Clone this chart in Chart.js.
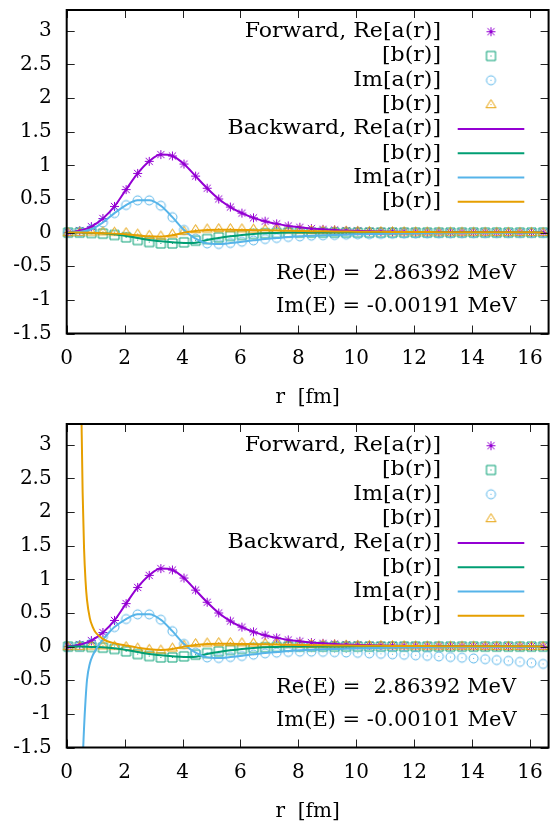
<!DOCTYPE html>
<html lang="en">
<head>
<meta charset="UTF-8">
<title>Forward / backward wave functions</title>
<script src="https://cdn.jsdelivr.net/npm/chart.js@4.4.0/dist/chart.umd.min.js"></script>
<style>
  * { margin: 0; padding: 0; box-sizing: border-box; }
  html, body { width: 552px; height: 821px; overflow: hidden; background: #fff; }
  body { position: relative; }
  .panel { position: absolute; left: 0; }
  #top { top: 0; }
  #bottom { top: 414px; }
</style>
</head>
<body>
<div class="panel" id="top"><canvas id="topChart" width="556" height="407"></canvas></div>
<div class="panel" id="bottom"><canvas id="bottomChart" width="556" height="407"></canvas></div>
<script>
// radial mesh of the forward integration (markers) [fm]
const r = [
  0.05, 0.45, 0.85, 1.25, 1.65, 2.05, 2.45, 2.85, 3.25, 3.65,
  4.05, 4.45, 4.85, 5.25, 5.65, 6.05, 6.45, 6.85, 7.25, 7.65,
  8.05, 8.45, 8.85, 9.25, 9.65, 10.05, 10.45, 10.85, 11.25, 11.65,
  12.05, 12.45, 12.85, 13.25, 13.65, 14.05, 14.45, 14.85, 15.25, 15.65,
  16.05, 16.45
];
// extra points near the origin where the backward solution blows up
const rInner = [0.45, 0.5, 0.55, 0.6, 0.65, 0.7, 0.8, 0.9, 1.0, 1.2, 1.4];

const reA = [
  0.00, 0.03, 0.09, 0.21, 0.39, 0.64, 0.88, 1.06, 1.16, 1.14,
  1.02, 0.84, 0.66, 0.50, 0.38, 0.29, 0.22, 0.17, 0.13, 0.10,
  0.08, 0.06, 0.05, 0.04, 0.03, 0.025, 0.02, 0.016, 0.013, 0.011,
  0.009, 0.007, 0.006, 0.005, 0.004, 0.003, 0.003, 0.002, 0.002, 0.002,
  0.001, 0.001
];
const reB = [
  0.000, 0.000, -0.005, -0.015, -0.035, -0.070, -0.110, -0.140, -0.160, -0.160,
  -0.145, -0.120, -0.095, -0.070, -0.050, -0.035, -0.020, -0.010, -0.005, 0.000,
  0, 0, 0, 0, 0, 0, 0, 0, 0, 0,
  0, 0, 0, 0, 0, 0, 0, 0, 0, 0,
  0, 0
];
const imA = [
  0.00, 0.01, 0.05, 0.15, 0.29, 0.41, 0.48, 0.48, 0.40, 0.23,
  0.04, -0.09, -0.16, -0.17, -0.155, -0.135, -0.115, -0.095, -0.080, -0.065,
  -0.055, -0.045, -0.040, -0.035, -0.030, -0.025, -0.022, -0.019, -0.016, -0.014,
  -0.012, -0.010, -0.009, -0.008, -0.007, -0.006, -0.005, -0.004, -0.004, -0.003,
  -0.003, -0.002
];
// forward Im[a(r)] for the second energy: drifts away at large r
const imA2 = [
  0.00, 0.01, 0.05, 0.15, 0.29, 0.41, 0.48, 0.48, 0.40, 0.23,
  0.04, -0.09, -0.16, -0.17, -0.155, -0.140, -0.120, -0.100, -0.090, -0.080,
  -0.075, -0.075, -0.078, -0.082, -0.087, -0.093, -0.100, -0.107, -0.114, -0.121,
  -0.129, -0.137, -0.146, -0.155, -0.165, -0.175, -0.186, -0.199, -0.212, -0.226,
  -0.241, -0.257
];
const imB = [
  0.000, 0.005, 0.010, 0.012, 0.008, 0.000, -0.020, -0.040, -0.050, -0.020,
  0.020, 0.045, 0.055, 0.060, 0.060, 0.057, 0.053, 0.049, 0.045, 0.040,
  0.036, 0.032, 0.028, 0.025, 0.022, 0.020, 0.018, 0.016, 0.014, 0.013,
  0.011, 0.010, 0.009, 0.008, 0.007, 0.007, 0.006, 0.005, 0.005, 0.004,
  0.004, 0.003
];

// backward integration
const backReB = [
  0.000, 0.000, -0.005, -0.010, -0.025, -0.050, -0.080, -0.110, -0.130, -0.145,
  -0.155, -0.150, -0.110, -0.080, -0.055, -0.035, -0.020, -0.010, -0.005, 0.000,
  0, 0, 0, 0, 0, 0, 0, 0, 0, 0,
  0, 0, 0, 0, 0, 0, 0, 0, 0, 0,
  0, 0
];
const backImB = [
  0.000, 0.000, -0.003, -0.008, -0.015, -0.025, -0.040, -0.055, -0.060, -0.040,
  0.000, 0.025, 0.038, 0.042, 0.042, 0.040, 0.037, 0.034, 0.031, 0.028,
  0.025, 0.022, 0.020, 0.018, 0.016, 0.014, 0.013, 0.012, 0.011, 0.010,
  0.009, 0.008, 0.007, 0.007, 0.006, 0.006, 0.005, 0.005, 0.004, 0.004,
  0.004, 0.003
];
// second energy: values on rInner, then continuing on r from 1.65 fm
const backImA2Inner = [-3.6, -2.6, -1.75, -1.2, -0.8, -0.5, -0.25, -0.13, -0.05, 0.08, 0.18];
const backImB2Inner = [5.0, 3.7, 2.3, 1.45, 0.98, 0.70, 0.42, 0.29, 0.21, 0.13, 0.08];
const backImB2Mid = [0.05, 0.015, -0.015, -0.04, -0.05, -0.035, 0.0];

const xTicks = { min: 0, max: 16.64, step: 2 };
const yTicks = { min: -1.5, max: 3.31, step: 0.5 };

const VIOLET = '#9400d3', GREEN = '#009e73', SKY = '#56b4e9', ORANGE = '#e69f00';
const FONT = '"DejaVu Serif", "Liberation Serif", serif';

Chart.defaults.font.family = FONT;
Chart.defaults.font.size = 20;
Chart.defaults.color = '#000';

function marker(shape, color) {
  const c = document.createElement('canvas');
  c.width = 13; c.height = 13;
  const g = c.getContext('2d');
  const m = 6.5, h = 4.5;
  g.strokeStyle = color;
  g.fillStyle = color;
  g.lineWidth = 1;
  g.beginPath();
  if (shape === 'star') {
    const d = h * 0.8;
    g.moveTo(m - h, m); g.lineTo(m + h, m);
    g.moveTo(m, m - h); g.lineTo(m, m + h);
    g.moveTo(m - d, m - d); g.lineTo(m + d, m + d);
    g.moveTo(m - d, m + d); g.lineTo(m + d, m - d);
  } else if (shape === 'square') {
    g.rect(m - h, m - h, 2 * h, 2 * h);
  } else if (shape === 'circle') {
    g.arc(m, m, h, 0, Math.PI * 2);
  } else {
    g.moveTo(m, m - h - 0.5);
    g.lineTo(m + h + 0.5, m + h * 0.7);
    g.lineTo(m - h - 0.5, m + h * 0.7);
    g.closePath();
  }
  g.stroke();
  if (shape !== 'star') g.fillRect(m - 0.5, m - 0.5, 1, 1);
  return c;
}

const pts = (xs, ys) => xs.map((x, i) => ({ x, y: ys[i] }));

function points(label, data, shape, color, order) {
  return { label, data, showLine: false, pointStyle: marker(shape, color),
           pointRadius: 5, borderColor: color, clip: false, order };
}
function curve(label, data, color, order) {
  return { label, data, showLine: true, borderColor: color, borderWidth: 2, pointRadius: 0,
           cubicInterpolationMode: 'monotone', fill: false, order };
}

// gnuplot-style key: text right-aligned, sample to the right of it
const keyPlugin = {
  id: 'key',
  afterDraw(chart, args, o) {
    const ctx = chart.ctx;
    ctx.save();
    ctx.font = o.size + 'px ' + FONT;
    ctx.fillStyle = '#000';
    ctx.textAlign = 'right';
    ctx.textBaseline = 'middle';
    chart.data.datasets.forEach((ds, i) => {
      const y = o.top + i * o.step;
      ctx.save();
      ctx.translate(o.textRight, y);
      ctx.scale(o.stretch, 1);
      ctx.fillText(ds.label, 0, 0);
      ctx.restore();
      if (ds.showLine === false) {
        const img = ds.pointStyle;
        ctx.drawImage(img, o.mid - img.width / 2, y - img.height / 2);
      } else {
        ctx.strokeStyle = ds.borderColor;
        ctx.lineWidth = ds.borderWidth;
        ctx.beginPath();
        ctx.moveTo(o.left, y);
        ctx.lineTo(o.right, y);
        ctx.stroke();
      }
    });
    ctx.restore();
  }
};

// energy annotation
const notePlugin = {
  id: 'note',
  afterDraw(chart, args, o) {
    const ctx = chart.ctx;
    ctx.save();
    ctx.font = o.size + 'px ' + FONT;
    ctx.fillStyle = '#000';
    ctx.textAlign = 'left';
    ctx.textBaseline = 'middle';
    o.lines.forEach((t, i) => ctx.fillText(t, o.x, o.y + i * o.step));
    ctx.restore();
  }
};

// border and inward tick marks on all four sides
const framePlugin = {
  id: 'frame',
  afterDatasetsDraw(chart, args, o) {
    const { ctx, chartArea: a, scales: { x, y } } = chart;
    ctx.save();
    ctx.strokeStyle = '#222';
    ctx.lineWidth = 1;
    ctx.beginPath();
    x.ticks.forEach(t => {
      const px = Math.round(x.getPixelForValue(t.value)) + 0.5;
      ctx.moveTo(px, a.bottom); ctx.lineTo(px, a.bottom - o.tick);
      ctx.moveTo(px, a.top); ctx.lineTo(px, a.top + o.tick);
    });
    y.ticks.forEach(t => {
      const py = Math.round(y.getPixelForValue(t.value)) + 0.5;
      ctx.moveTo(a.left, py); ctx.lineTo(a.left + o.tick, py);
      ctx.moveTo(a.right, py); ctx.lineTo(a.right - o.tick, py);
    });
    ctx.stroke();
    ctx.strokeStyle = '#000';
    ctx.lineWidth = 2;
    ctx.strokeRect(a.left, a.top, a.right - a.left, a.bottom - a.top);
    ctx.restore();
  }
};

function makeChart(id, datasets, notes) {
  return new Chart(document.getElementById(id), {
    type: 'scatter',
    data: { datasets },
    options: {
      responsive: false,
      animation: false,
      events: [],
      layout: { padding: { top: 10, right: 2.5, left: 0, bottom: 0 } },
      scales: {
        x: {
          type: 'linear', min: xTicks.min, max: xTicks.max, bounds: 'data',
          grid: { display: false, drawTicks: false },
          border: { display: false },
          ticks: { stepSize: xTicks.step, includeBounds: false, padding: 13 },
          title: { display: true, text: 'r  [fm]', padding: { top: 0, bottom: -3 } },
          afterFit(s) { s.height = 73.5; }
        },
        y: {
          min: yTicks.min, max: yTicks.max, bounds: 'data',
          grid: { display: false, drawTicks: false },
          border: { display: false },
          ticks: { stepSize: yTicks.step, includeBounds: false, padding: 15,
                   callback: v => String(+v.toFixed(1)) },
          afterFit(s) { s.width = 66.7; s.paddingTop = 0; s.paddingBottom = 0; }
        }
      },
      plugins: {
        legend: { display: false },
        tooltip: { enabled: false },
        frame: { tick: 8 },
        key: { top: 31.7, step: 24.3, textRight: 441, left: 457.7, right: 524.3, mid: 491,
               size: 21, stretch: 1.05 },
        note: { x: 276, y: 274, step: 33, size: 21, lines: notes }
      }
    },
    plugins: [framePlugin, keyPlugin, notePlugin]
  });
}

const rLine = rInner.concat(r.slice(4));

makeChart('topChart', [
  points('Forward, Re[a(r)]', pts(r, reA), 'star', VIOLET, 8),
  points('[b(r)]', pts(r, reB), 'square', GREEN, 7),
  points('Im[a(r)]', pts(r, imA), 'circle', SKY, 6),
  points('[b(r)]', pts(r, imB), 'triangle', ORANGE, 5),
  curve('Backward, Re[a(r)]', pts(r, reA), VIOLET, 4),
  curve('[b(r)]', pts(r, backReB), GREEN, 3),
  curve('Im[a(r)]', pts(r, imA), SKY, 2),
  curve('[b(r)]', pts(r, backImB), ORANGE, 1)
], ['Re(E) =  2.86392 MeV', 'Im(E) = -0.00191 MeV']);

makeChart('bottomChart', [
  points('Forward, Re[a(r)]', pts(r, reA), 'star', VIOLET, 8),
  points('[b(r)]', pts(r, reB), 'square', GREEN, 7),
  points('Im[a(r)]', pts(r, imA2), 'circle', SKY, 6),
  points('[b(r)]', pts(r, imB), 'triangle', ORANGE, 5),
  curve('Backward, Re[a(r)]', pts(r, reA), VIOLET, 4),
  curve('[b(r)]', pts(r, backReB), GREEN, 3),
  curve('Im[a(r)]', pts(rLine, backImA2Inner.concat(imA.slice(4))), SKY, 2),
  curve('[b(r)]', pts(rLine, backImB2Inner.concat(backImB2Mid, backImB.slice(11))), ORANGE, 1)
], ['Re(E) =  2.86392 MeV', 'Im(E) = -0.00101 MeV']);
</script>
</body>
</html>
